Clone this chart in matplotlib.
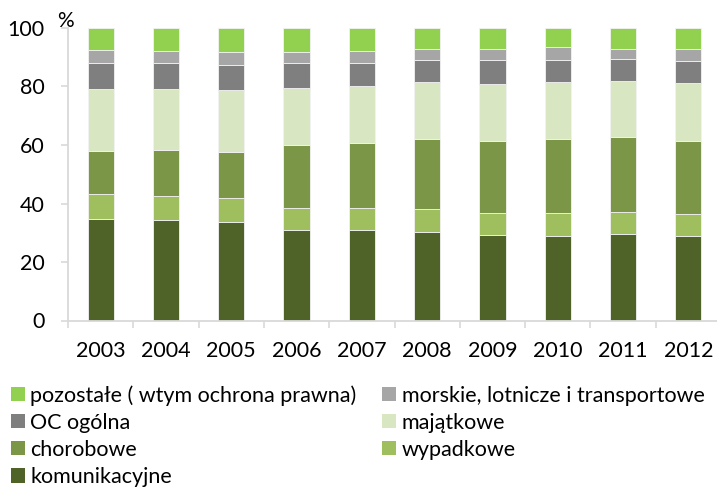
import numpy as np
import matplotlib

matplotlib.use("Agg")
import matplotlib.pyplot as plt
from matplotlib.patches import Patch

plt.rcParams["font.family"] = ["Lato", "DejaVu Sans"]

years = ["2003", "2004", "2005", "2006", "2007", "2008", "2009", "2010", "2011", "2012"]

# shares in %, bottom to top
komunikacyjne = [34.7, 34.3, 33.8, 30.9, 30.9, 30.1, 29.2, 28.9, 29.6, 28.9]
wypadkowe = [8.5, 8.4, 8.0, 7.7, 7.5, 8.0, 7.7, 7.8, 7.6, 7.5]
chorobowe = [14.9, 15.7, 15.8, 21.4, 22.3, 24.0, 24.5, 25.3, 25.4, 25.0]
majatkowe = [21.0, 20.9, 21.1, 19.6, 19.5, 19.3, 19.4, 19.5, 19.3, 19.7]
oc_ogolna = [8.8, 8.8, 8.7, 8.3, 8.0, 7.7, 8.1, 7.6, 7.4, 7.5]
morskie = [4.7, 3.9, 4.3, 4.0, 4.0, 3.8, 4.0, 4.3, 3.6, 4.1]
pozostale = [7.4, 8.0, 8.3, 8.1, 7.8, 7.1, 7.1, 6.6, 7.1, 7.3]

series = [
    ("komunikacyjne", komunikacyjne, "#4f6228"),
    ("wypadkowe", wypadkowe, "#9fbf5f"),
    ("chorobowe", chorobowe, "#7c9647"),
    ("majątkowe", majatkowe, "#d8e6c2"),
    ("OC ogólna", oc_ogolna, "#7f7f7f"),
    ("morskie, lotnicze i transportowe", morskie, "#a6a6a6"),
    ("pozostałe ( wtym ochrona prawna)", pozostale, "#92d050"),
]

fig = plt.figure(figsize=(7.17, 4.91), dpi=100)
ax = fig.add_axes([68 / 717, 1 - 320.5 / 491, 653 / 717, 292.5 / 491])

x = np.arange(len(years))
bottom = np.zeros(len(years))
for name, values, color in series:
    ax.bar(x, values, width=0.4, bottom=bottom, color=color,
           edgecolor="#f2f2f2", linewidth=0.6, label=name)
    bottom += np.array(values)

ax.set_xlim(-0.5, len(years) - 0.5)
ax.set_ylim(0, 100)
ax.set_yticks(range(0, 101, 20))
ax.set_xticks(x)
ax.set_xticklabels(years)
ax.set_xticks(np.arange(-0.5, len(years), 1.0), minor=True)

grey = "#d9d9d9"
for side in ("top", "right"):
    ax.spines[side].set_visible(False)
for side in ("left", "bottom"):
    ax.spines[side].set_color(grey)
    ax.spines[side].set_linewidth(1.3)

ax.tick_params(axis="y", length=5, width=1.2, color=grey, pad=12, labelsize=15.5)
ax.tick_params(axis="x", which="major", length=0, pad=15, labelsize=15.5)
ax.tick_params(axis="x", which="minor", length=5, width=1.2, color=grey)

fig.text(65 / 717, 1 - 21 / 491, "%", ha="center", va="center", fontsize=15)

# legend laid out row by row as in the reference
order = [6, 4, 2, 0, 5, 3, 1]
handles = [Patch(facecolor=series[i][2], edgecolor="none") for i in order]
labels = [series[i][0] for i in order]
fig.legend(handles, labels, loc="upper left", bbox_to_anchor=(11 / 717, 1 - 385 / 491),
           ncol=2, frameon=False, fontsize=15.5, borderpad=0, borderaxespad=0,
           handlelength=0.65, handleheight=0.65, handletextpad=0.25,
           columnspacing=1.2, labelspacing=0.33)

fig.savefig("out.png", dpi=100)
